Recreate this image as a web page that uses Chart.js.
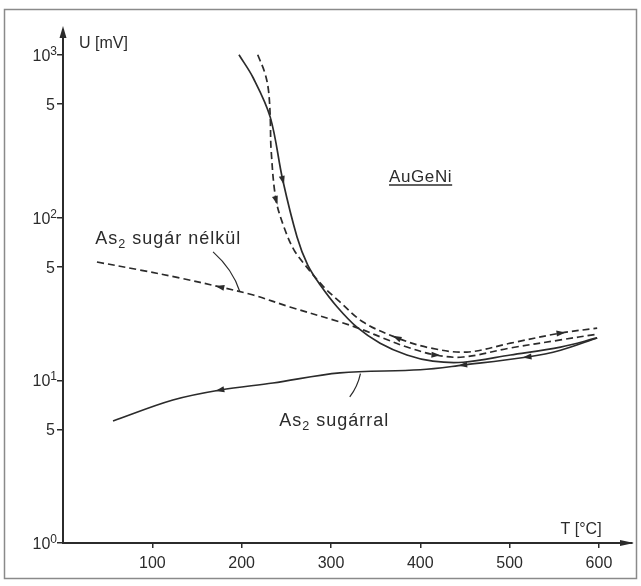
<!DOCTYPE html>
<html>
<head>
<meta charset="utf-8">
<script src="https://cdn.jsdelivr.net/npm/chart.js@4.4.1/dist/chart.umd.min.js"></script>
<style>
  html, body { margin: 0; padding: 0; background: #fff; }
  canvas { display: block; }
</style>
</head>
<body>
<canvas id="chart" width="641" height="586"></canvas>
<script>
/* ===== AuGeNi: U [mV] vs T [°C] ===== */

// solid curve falling from ~200 °C
const tempA = [197, 213, 232, 246, 262, 274, 288, 307, 329, 355, 385, 414, 448, 501, 557, 598];
const voltA = [1000, 720, 414, 170, 76, 51, 38.5, 28.2, 21.2, 16.9, 14.3, 13.1, 12.9, 14.3, 16.0, 18.2];

// dashed curve falling from ~220 °C
const tempC = [218, 226, 230, 232, 233, 238.5, 248.6, 258.7, 271, 291, 310, 336, 374, 411, 452, 501, 557, 598];
const voltC = [1000, 773, 607, 414, 260, 128, 83.8, 63.1, 51.1, 37.9, 30.3, 22.8, 18.2, 15.8, 14.9, 16.9, 19.5, 20.9];

// dashed: As2 sugár nélkül
const tempD = [38, 86, 131, 176, 213, 254, 310, 336, 358, 385, 417, 448, 501, 557, 598];
const voltD = [53.3, 47.6, 42.5, 37.4, 33.4, 28.2, 22.8, 20.4, 18.2, 16.0, 14.3, 13.9, 15.8, 17.7, 19.2];

// solid: As2 sugárral
const tempB = [56, 123, 176, 235, 310, 400, 448, 520, 557, 598];
const voltB = [5.62, 7.56, 8.71, 9.62, 11.1, 11.6, 12.4, 13.9, 15.3, 18.2];

const xTicks = [100, 200, 300, 400, 500, 600];
const yTicks = [1, 5, 10, 50, 100, 500, 1000];
const yTickBase = ['10', '5', '10', '5', '10', '5', '10'];
const yTickExp = ['0', '', '1', '', '2', '', '3'];

const ink = '#2b2b2b';
const fontFam = '"Liberation Sans", Arial, sans-serif';

const toPts = (xs, ys) => xs.map((x, i) => ({ x: x, y: ys[i] }));

// arrowheads on curves: dataset index, point index, direction along data (+1 / -1)
const arrows = [
  { ds: 0, at: 3, dir: 1 },
  { ds: 1, at: 5, dir: 1 },
  { ds: 1, at: 12, dir: -1 },
  { ds: 1, at: 16, dir: 1 },
  { ds: 2, at: 3, dir: -1 },
  { ds: 2, at: 10, dir: 1 },
  { ds: 3, at: 2, dir: -1 },
  { ds: 3, at: 6, dir: -1 },
  { ds: 3, at: 7, dir: -1 }
];

function drawSub(ctx, x, y, parts, size) {
  let cx = x;
  parts.forEach(p => {
    const sub = p[1];
    ctx.font = (sub ? size * 0.7 : size) + 'px ' + fontFam;
    ctx.fillText(p[0], cx, sub ? y + size * 0.25 : y);
    cx += ctx.measureText(p[0]).width;
  });
}

const decor = {
  id: 'decor',
  beforeDraw(chart) {
    const ctx = chart.ctx;
    ctx.save();
    ctx.fillStyle = '#fff';
    ctx.fillRect(0, 0, chart.width, chart.height);
    ctx.strokeStyle = '#8a8a8a';
    ctx.lineWidth = 1.5;
    ctx.strokeRect(4.5, 9.5, 632, 569);
    ctx.restore();
  },
  afterDraw(chart) {
    const ctx = chart.ctx;
    const xs = chart.scales.x, ys = chart.scales.y;
    const px = v => xs.getPixelForValue(v);
    const py = v => ys.getPixelForValue(v);
    const area = chart.chartArea;
    ctx.save();
    ctx.fillStyle = ink;
    ctx.strokeStyle = ink;

    // axis arrowheads
    ctx.beginPath();
    ctx.moveTo(area.left, area.top - 4);
    ctx.lineTo(area.left - 3.5, area.top + 8);
    ctx.lineTo(area.left + 3.5, area.top + 8);
    ctx.closePath();
    ctx.fill();
    ctx.beginPath();
    ctx.moveTo(area.right + 2, area.bottom);
    ctx.lineTo(area.right - 12, area.bottom - 3);
    ctx.lineTo(area.right - 12, area.bottom + 3);
    ctx.closePath();
    ctx.fill();

    // y tick labels with superscript exponents
    ctx.textBaseline = 'alphabetic';
    yTicks.forEach((v, i) => {
      const y = py(v) + 6;
      let right = area.left - 6;
      ctx.textAlign = 'right';
      if (yTickExp[i]) {
        ctx.font = '12px ' + fontFam;
        ctx.fillText(yTickExp[i], right, y - 6);
        right -= ctx.measureText(yTickExp[i]).width;
      } else {
        right -= 2;
      }
      ctx.font = '16px ' + fontFam;
      ctx.fillText(yTickBase[i], right, y);
    });

    // arrowheads on curves
    arrows.forEach(a => {
      const d = chart.data.datasets[a.ds].data;
      const p = d[a.at], q = d[a.at + a.dir] || d[a.at - a.dir];
      const x0 = px(p.x), y0 = py(p.y);
      let ang = Math.atan2(py(q.y) - y0, px(q.x) - x0);
      if (!d[a.at + a.dir]) ang += Math.PI;
      ctx.save();
      ctx.translate(x0, y0);
      ctx.rotate(ang);
      ctx.beginPath();
      ctx.moveTo(5, 0);
      ctx.lineTo(-4, -3);
      ctx.lineTo(-4, 3);
      ctx.closePath();
      ctx.fill();
      ctx.restore();
    });

    // leader lines
    ctx.lineWidth = 1.2;
    ctx.beginPath();
    ctx.moveTo(px(168), py(61.5));
    ctx.quadraticCurveTo(px(190), py(48), px(198), py(35));
    ctx.stroke();
    ctx.beginPath();
    ctx.moveTo(px(321), py(7.9));
    ctx.quadraticCurveTo(px(330), py(9.2), px(333), py(11.0));
    ctx.stroke();

    // texts
    ctx.textAlign = 'left';
    ctx.font = '16px ' + fontFam;
    ctx.fillText('U [mV]', px(18), py(1103));
    ctx.fillText('T [\u00B0C]', px(557), py(1.136));

    ctx.letterSpacing = '0.6px';
    ctx.font = '17px ' + fontFam;
    const gx = px(365), gy = py(165.5);
    ctx.fillText('AuGeNi', gx, gy);
    const gw = ctx.measureText('AuGeNi').width;
    ctx.lineWidth = 1.5;
    ctx.beginPath();
    ctx.moveTo(gx, gy + 3);
    ctx.lineTo(gx + gw, gy + 3);
    ctx.stroke();

    ctx.letterSpacing = '1px';
    drawSub(ctx, px(36), py(68.8), [['As', 0], ['2', 1], [' sugár nélkül', 0]], 18);
    drawSub(ctx, px(242), py(5.24), [['As', 0], ['2', 1], [' sugárral', 0]], 18);
    ctx.restore();
  }
};

const lineStyle = {
  borderColor: ink,
  borderWidth: 1.7,
  pointRadius: 0,
  fill: false,
  tension: 0.35
};

new Chart(document.getElementById('chart').getContext('2d'), {
  type: 'line',
  data: {
    datasets: [
      { ...lineStyle, label: 'A', data: toPts(tempA, voltA) },
      { ...lineStyle, label: 'C', data: toPts(tempC, voltC), borderDash: [7, 4] },
      { ...lineStyle, label: 'D', data: toPts(tempD, voltD), borderDash: [7, 4] },
      { ...lineStyle, label: 'B', data: toPts(tempB, voltB) }
    ]
  },
  options: {
    responsive: false,
    animation: false,
    events: [],
    layout: { padding: { top: 30, right: 9, left: 0, bottom: 0 } },
    plugins: { legend: { display: false }, tooltip: { enabled: false } },
    scales: {
      x: {
        type: 'linear',
        min: 0,
        max: 637,
        afterBuildTicks: s => { s.ticks = xTicks.map(v => ({ value: v })); },
        afterFit: s => { s.height = 43; },
        grid: { drawOnChartArea: false, drawTicks: true, tickLength: 5, color: ink, lineWidth: 1.5 },
        border: { display: true, color: ink, width: 2 },
        ticks: {
          color: ink, autoSkip: false, maxRotation: 0, padding: 6,
          font: { family: fontFam, size: 16 },
          callback: v => String(v)
        }
      },
      y: {
        type: 'logarithmic',
        min: 1,
        max: 1420,
        afterBuildTicks: s => { s.ticks = yTicks.map(v => ({ value: v })); },
        afterFit: s => { s.width = 63; },
        grid: { drawOnChartArea: false, drawTicks: true, tickLength: 6, color: ink, lineWidth: 1.5 },
        border: { display: true, color: ink, width: 2 },
        ticks: { display: false }
      }
    }
  },
  plugins: [decor]
});
</script>
</body>
</html>
